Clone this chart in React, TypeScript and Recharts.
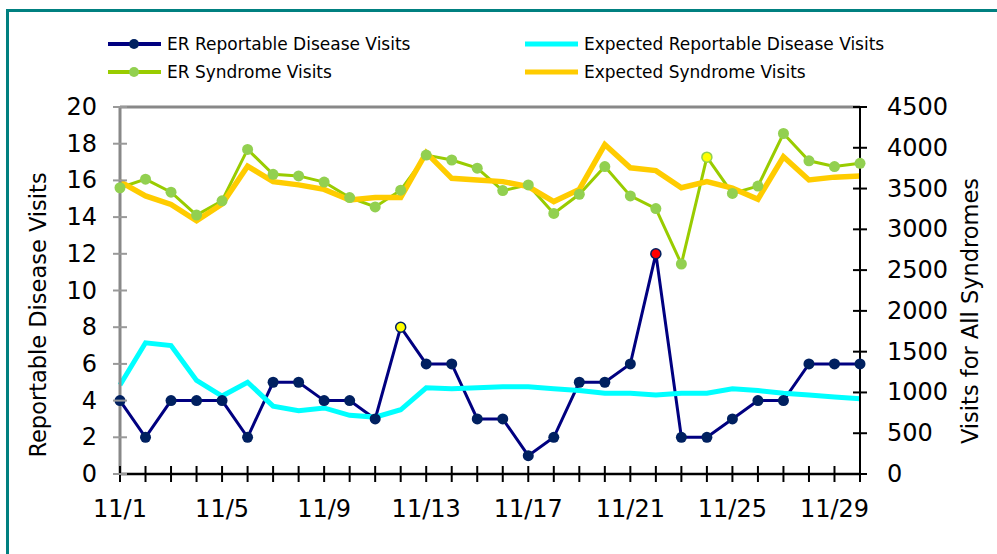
import { CartesianGrid, Line, LineChart, ReferenceLine, XAxis, YAxis } from 'recharts'

const days = [
  '11/1', '11/2', '11/3', '11/4', '11/5', '11/6', '11/7', '11/8', '11/9', '11/10',
  '11/11', '11/12', '11/13', '11/14', '11/15', '11/16', '11/17', '11/18', '11/19', '11/20',
  '11/21', '11/22', '11/23', '11/24', '11/25', '11/26', '11/27', '11/28', '11/29', '11/30',
]
const erReportable = [4, 2, 4, 4, 4, 2, 5, 5, 4, 4, 3, 8, 6, 6, 3, 3, 1, 2, 5, 5, 6, 12, 2, 2, 3, 4, 4, 6, 6, 6]
const expectedReportable = [
  4.85, 7.15, 7.0, 5.1, 4.25, 5.0, 3.7, 3.45, 3.6, 3.2, 3.1, 3.5, 4.7, 4.65, 4.7,
  4.75, 4.75, 4.65, 4.55, 4.4, 4.4, 4.3, 4.4, 4.4, 4.65, 4.55, 4.4, 4.3, 4.2, 4.1,
]
const erSyndrome = [
  3510, 3615, 3455, 3175, 3350, 3980, 3675, 3655, 3580, 3390, 3275, 3480, 3910, 3850, 3750,
  3475, 3545, 3195, 3430, 3770, 3410, 3255, 2575, 3885, 3440, 3530, 4175, 3840, 3770, 3810,
]
const expectedSyndrome = [
  3585, 3410, 3305, 3105, 3310, 3775, 3585, 3545, 3490, 3360, 3390, 3390, 3940, 3625, 3605,
  3585, 3525, 3340, 3490, 4040, 3755, 3720, 3510, 3585, 3505, 3370, 3890, 3605, 3640, 3655,
]
// flagged days (alert colours on the markers)
const reportableAlerts: Record<string, string> = { '11/12': '#ffff00', '11/22': '#ff0000' }
const syndromeAlerts: Record<string, string> = { '11/24': '#ffff00' }

const leftTicks = [0, 2, 4, 6, 8, 10, 12, 14, 16, 18, 20]
const rightTicks = [0, 500, 1000, 1500, 2000, 2500, 3000, 3500, 4000, 4500]

const data = days.map((day, i) => ({
  day,
  erReportable: erReportable[i],
  expectedReportable: expectedReportable[i],
  erSyndrome: erSyndrome[i],
  expectedSyndrome: expectedSyndrome[i],
}))

const FONT = '"DejaVu Sans", sans-serif'
const LEFT_GAP = 23
const RIGHT_GAP = 27
const BOTTOM_GAP = 25

const LeftTick = (props: any) => {
  const { x, y, payload } = props
  const ax = x + LEFT_GAP
  return (
    <g>
      <line x1={ax - 7} x2={ax + 7} y1={y} y2={y} stroke="#999" strokeWidth={2} />
      <text x={x} y={y} textAnchor="end" dominantBaseline="central" fontFamily={FONT} fontSize={24} fill="#000">
        {payload.value}
      </text>
    </g>
  )
}

const RightTick = (props: any) => {
  const { x, y, payload } = props
  const ax = x - RIGHT_GAP
  return (
    <g>
      <line x1={ax - 7} x2={ax + 7} y1={y} y2={y} stroke="#000" strokeWidth={2} />
      <text x={x} y={y} textAnchor="start" dominantBaseline="central" fontFamily={FONT} fontSize={24} fill="#000">
        {payload.value}
      </text>
    </g>
  )
}

const BottomTick = (props: any) => {
  const { x, y, payload, index } = props
  const ay = y - BOTTOM_GAP
  return (
    <g>
      <line x1={x} x2={x} y1={ay - 8} y2={ay + 8} stroke="#000" strokeWidth={2} />
      {index % 4 === 0 && (
        <text x={x} y={y + 18} textAnchor="middle" fontFamily={FONT} fontSize={24} fill="#000">
          {payload.value}
        </text>
      )}
    </g>
  )
}

const AxisTitle = ({ cx, cy, text }: { cx: number; cy: number; text: string }) => (
  <text
    x={cx}
    y={cy}
    transform={`rotate(-90 ${cx} ${cy})`}
    textAnchor="middle"
    dominantBaseline="central"
    fontFamily={FONT}
    fontSize={22.5}
    fill="#000"
  >
    {text}
  </text>
)

const makeDot = (fill: string, stroke: string, alerts: Record<string, string>) => (props: any) => {
  const { cx, cy, index, payload } = props
  const alert = alerts[payload.day]
  if (alert) {
    return <circle key={index} cx={cx} cy={cy} r={5} fill={alert} stroke={stroke} strokeWidth={1.5} />
  }
  return <circle key={index} cx={cx} cy={cy} r={5.5} fill={fill} stroke="none" />
}

const legendItems = [
  { label: 'ER Reportable Disease Visits', color: '#000080', dot: '#002060', left: 108, top: 44 },
  { label: 'Expected Reportable Disease Visits', color: '#00ffff', dot: null, left: 525, top: 44 },
  { label: 'ER Syndrome Visits', color: '#99cc00', dot: '#92d050', left: 108, top: 72 },
  { label: 'Expected Syndrome Visits', color: '#ffcc00', dot: null, left: 525, top: 72 },
]

export default function App() {
  return (
    <div style={{ position: 'absolute', left: 0, top: 0, width: 997, height: 554, background: '#fff', overflow: 'hidden' }}>
      <div
        style={{
          position: 'absolute',
          left: 6,
          top: 9,
          width: 1100,
          height: 700,
          borderLeft: '3px solid #008080',
          borderTop: '3px solid #008080',
        }}
      />
      {legendItems.map((it) => (
        <div key={it.label} style={{ position: 'absolute', left: it.left, top: it.top - 12, height: 24, display: 'flex', alignItems: 'center' }}>
          <svg width={53} height={24}>
            <line x1={0} x2={53} y1={12} y2={12} stroke={it.color} strokeWidth={it.dot ? 4 : 5} />
            {it.dot && <circle cx={26} cy={12} r={5} fill={it.dot} />}
          </svg>
          <span style={{ marginLeft: 6, fontFamily: FONT, fontSize: 17, color: '#000', whiteSpace: 'nowrap' }}>{it.label}</span>
        </div>
      ))}
      <LineChart
        width={997}
        height={554}
        data={data}
        margin={{ top: 107, right: 0, bottom: 0, left: 0 }}
        style={{ position: 'absolute', left: 0, top: 0 }}
      >
        <CartesianGrid stroke="none" />
        <XAxis
          dataKey="day"
          interval={0}
          height={80}
          padding={{ left: 0, right: 0 }}
          axisLine={{ stroke: '#000', strokeWidth: 2.5 }}
          tickLine={false}
          tickSize={0}
          tickMargin={BOTTOM_GAP}
          tick={<BottomTick />}
        />
        <YAxis
          yAxisId="left"
          orientation="left"
          width={120}
          domain={[0, 20]}
          ticks={leftTicks}
          interval={0}
          axisLine={{ stroke: '#888', strokeWidth: 3 }}
          tickLine={false}
          tickSize={0}
          tickMargin={LEFT_GAP}
          tick={<LeftTick />}
          label={<AxisTitle cx={38} cy={315} text="Reportable Disease Visits" />}
        />
        <YAxis
          yAxisId="right"
          orientation="right"
          width={137}
          domain={[0, 4500]}
          ticks={rightTicks}
          interval={0}
          axisLine={{ stroke: '#000', strokeWidth: 2 }}
          tickLine={false}
          tickSize={0}
          tickMargin={RIGHT_GAP}
          tick={<RightTick />}
          label={<AxisTitle cx={970} cy={311} text="Visits for All Syndromes" />}
        />
        <ReferenceLine yAxisId="left" y={20} stroke="#888" strokeWidth={3} />
        <Line
          yAxisId="left"
          dataKey="erReportable"
          stroke="#000080"
          strokeWidth={3}
          dot={makeDot('#002060', '#002060', reportableAlerts)}
          activeDot={false}
          isAnimationActive={false}
        />
        <Line
          yAxisId="right"
          dataKey="erSyndrome"
          stroke="#99cc00"
          strokeWidth={3}
          dot={makeDot('#92d050', '#92d050', syndromeAlerts)}
          activeDot={false}
          isAnimationActive={false}
        />
        <Line
          yAxisId="left"
          dataKey="expectedReportable"
          stroke="#00ffff"
          strokeWidth={5}
          dot={false}
          activeDot={false}
          isAnimationActive={false}
        />
        <Line
          yAxisId="right"
          dataKey="expectedSyndrome"
          stroke="#ffcc00"
          strokeWidth={5.5}
          dot={false}
          activeDot={false}
          isAnimationActive={false}
        />
      </LineChart>
    </div>
  )
}
